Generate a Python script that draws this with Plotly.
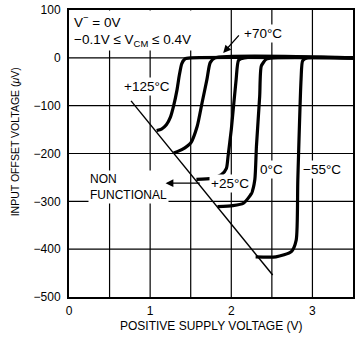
import plotly.graph_objects as go

# ---- data ----
x_125 = [1.08, 1.14, 1.20, 1.25, 1.29, 1.33, 1.36, 1.39, 1.43, 1.50, 3.5]
y_125 = [-152, -149, -140, -124, -100, -68, -36, -12, -2, 0, 0]

x_70 = [1.29, 1.39, 1.50, 1.58, 1.64, 1.70, 1.74, 1.80, 3.5]
y_70 = [-199, -192, -178, -143, -94, -45, -10, 0, 0]

x_25 = [1.57, 1.76, 1.88, 1.94, 1.96, 2.00, 2.06, 2.09, 2.16, 3.5]
y_25 = [-254, -252, -244, -231, -206, -150, -45, -5, 0, 0]

x_0 = [1.83, 2.02, 2.15, 2.25, 2.29, 2.31, 2.35, 2.37, 2.43, 2.51, 3.5]
y_0 = [-311, -309, -304, -283, -255, -185, -80, -17, -3, 0, 0]

x_m55 = [2.30, 2.55, 2.74, 2.80, 2.82, 2.86, 2.88, 2.94, 3.5]
y_m55 = [-416, -416, -405, -381, -255, -45, -6, 0, 0]

x_boundary = [0.765, 2.51]
y_boundary = [-90, -454]

x_range = [0, 3.5]
y_range = [-500, 100]
x_grid = [0.5, 1, 1.5, 2, 2.5, 3]
y_grid = [0, -100, -200, -300, -400]

FONT = "Liberation Sans"

fig = go.Figure()

# grid lines, drawn first so that they sit under the curves
for v in x_grid:
    fig.add_trace(go.Scatter(x=[v, v], y=y_range, mode="lines",
                             line=dict(color="black", width=1.2),
                             showlegend=False, hoverinfo="skip"))
for v in y_grid:
    fig.add_trace(go.Scatter(x=x_range, y=[v, v], mode="lines",
                             line=dict(color="black", width=1.2),
                             showlegend=False, hoverinfo="skip"))

for xs, ys in [(x_125, y_125), (x_70, y_70), (x_25, y_25), (x_0, y_0), (x_m55, y_m55)]:
    fig.add_trace(go.Scatter(x=xs, y=ys, mode="lines",
                             line=dict(color="black", width=3.2, shape="spline", smoothing=0.6),
                             showlegend=False, hoverinfo="skip"))
fig.add_trace(go.Scatter(x=x_boundary, y=y_boundary, mode="lines",
                         line=dict(color="black", width=1.4),
                         showlegend=False, hoverinfo="skip"))

def label(text, x, y, size=13.5, **kw):
    d = dict(text=text, x=x, y=y, xref="x", yref="y", showarrow=False,
             bgcolor="white", font=dict(family=FONT, size=size, color="black"),
             borderpad=1)
    d.update(kw)
    fig.add_annotation(**d)

label("V<sup>−</sup> = 0V<br>−0.1V ≤ V<sub>CM</sub> ≤ 0.4V", 0.04, 57, xanchor="left", align="left")
label("+125°C", 0.96, -59)
label("+70°C", 2.39, 50)
label("+25°C", 1.99, -262)
label("0°C", 2.49, -234)
label("−55°C", 3.12, -234)
label("NON<br>FUNCTIONAL", 0.24, -270, size=12, xanchor="left", align="left")

# arrows
fig.add_annotation(x=1.19, y=-262, ax=1.63, ay=-262, xref="x", yref="y", axref="x", ayref="y",
                   text="", showarrow=True, arrowhead=2, arrowsize=1.2, arrowwidth=1.3, arrowcolor="black")
fig.add_annotation(x=1.90, y=10, ax=2.11, ay=50, xref="x", yref="y", axref="x", ayref="y",
                   text="", showarrow=True, arrowhead=2, arrowsize=1.2, arrowwidth=1.3, arrowcolor="black")

# axis titles
fig.add_annotation(text="INPUT OFFSET VOLTAGE (<i>μ</i>V)", xref="paper", yref="paper",
                   x=-0.189, y=0.54, textangle=-90, showarrow=False, xanchor="center",
                   font=dict(family=FONT, size=10.5, color="black"))
fig.add_annotation(text="POSITIVE SUPPLY VOLTAGE (V)", xref="paper", yref="paper",
                   x=0.503, y=-0.1, showarrow=False, xanchor="center", yanchor="middle",
                   font=dict(family=FONT, size=12, color="black"))

fig.update_xaxes(range=x_range, dtick=1, tick0=0, showgrid=False,
                 showline=True, linecolor="black", linewidth=2, mirror=True,
                 zeroline=False, ticks="outside", ticklen=2, tickcolor="rgba(0,0,0,0)",
                 tickfont=dict(family=FONT, size=12, color="black"))
fig.update_yaxes(range=y_range, dtick=100, tick0=0, showgrid=False,
                 showline=True, linecolor="black", linewidth=2, mirror=True,
                 zeroline=False, ticks="outside", ticklen=4, tickcolor="rgba(0,0,0,0)",
                 tickfont=dict(family=FONT, size=12, color="black"))

fig.update_layout(width=356, height=337, margin=dict(l=69, r=1, t=10, b=40),
                  plot_bgcolor="white", paper_bgcolor="white",
                  font=dict(family=FONT, size=12, color="black"))
# remove the browser's default 8 px page margin so the figure fills the window exactly
fig.write_html("out.html", config={"displayModeBar": False},
               post_script="document.body.style.margin='0px';")
